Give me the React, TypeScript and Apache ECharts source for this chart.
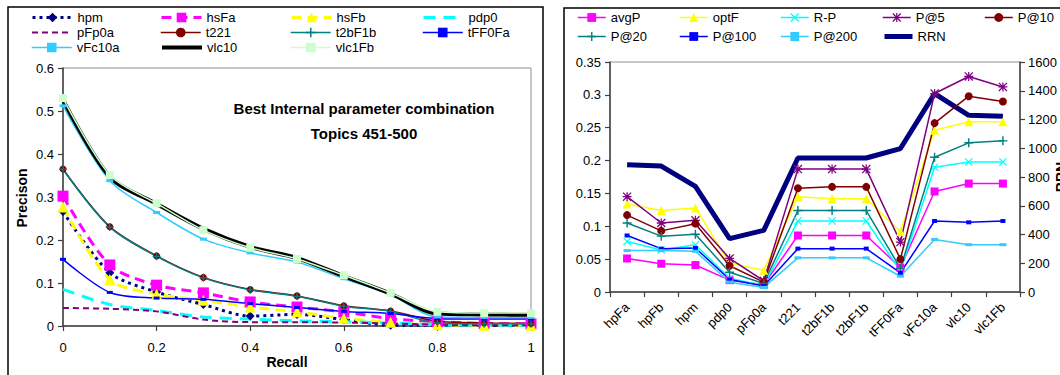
import React, { useEffect, useRef } from "react";
import * as echarts from "echarts";

// ---------- Left panel data (Recall / Precision) ----------
const RECALL = [0, 0.1, 0.2, 0.3, 0.4, 0.5, 0.6, 0.7, 0.8, 0.9, 1];
const LEFT_NAMES = ["hpm", "hsFa", "hsFb", "pdp0", "pFp0a", "t221", "t2bF1b", "tFF0Fa", "vFc10a", "vlc10", "vlc1Fb"];
const hpm = [0.266, 0.124, 0.079, 0.050, 0.023, 0.027, 0.015, 0.002, 0.002, 0.001, 0.001];
const hsFa = [0.302, 0.142, 0.095, 0.077, 0.056, 0.044, 0.033, 0.017, 0.010, 0.006, 0.005];
const hsFb = [0.277, 0.108, 0.074, 0.060, 0.044, 0.033, 0.018, 0.009, 0.003, 0.002, 0.002];
const pdp0 = [0.085, 0.050, 0.036, 0.021, 0.016, 0.012, 0.010, 0.007, 0.003, 0.002, 0.002];
const pFp0a = [0.042, 0.040, 0.034, 0.015, 0.009, 0.009, 0.008, 0.006, 0.003, 0.002, 0.002];
const t221 = [0.365, 0.231, 0.163, 0.113, 0.085, 0.070, 0.047, 0.035, 0.011, 0.007, 0.006];
const t2bF1b = [0.364, 0.230, 0.162, 0.112, 0.084, 0.069, 0.046, 0.034, 0.007, 0.005, 0.005];
const tFF0Fa = [0.155, 0.078, 0.065, 0.062, 0.052, 0.043, 0.034, 0.029, 0.017, 0.016, 0.016];
const vFc10a = [0.512, 0.338, 0.264, 0.202, 0.170, 0.149, 0.110, 0.073, 0.021, 0.020, 0.020];
const vlc10 = [0.526, 0.347, 0.284, 0.226, 0.184, 0.158, 0.116, 0.075, 0.029, 0.027, 0.026];
const vlc1Fb = [0.530, 0.351, 0.285, 0.223, 0.182, 0.156, 0.118, 0.077, 0.033, 0.030, 0.030];
const LEFT_TITLE = ["Best Internal parameter combination", "Topics 451-500"];

// ---------- Right panel data ----------
const RUNS = ["hpFa", "hpFb", "hpm", "pdp0", "pFp0a", "t221", "t2bF1b", "t2bF1b", "tFF0Fa", "vFc10a", "vlc10", "vlc1Fb"];
const RIGHT_NAMES = ["avgP", "optF", "R-P", "P@5", "P@10", "P@20", "P@100", "P@200", "RRN"];
const avgP = [0.051, 0.043, 0.041, 0.018, 0.011, 0.086, 0.086, 0.086, 0.037, 0.153, 0.165, 0.165];
const optF = [0.134, 0.124, 0.128, 0.044, 0.033, 0.145, 0.142, 0.142, 0.092, 0.246, 0.259, 0.259];
const RP = [0.077, 0.064, 0.072, 0.021, 0.010, 0.108, 0.108, 0.108, 0.032, 0.190, 0.198, 0.198];
const P5 = [0.145, 0.105, 0.109, 0.051, 0.017, 0.187, 0.187, 0.187, 0.076, 0.302, 0.328, 0.312];
const P10 = [0.117, 0.093, 0.104, 0.040, 0.015, 0.158, 0.160, 0.160, 0.050, 0.257, 0.298, 0.290];
const P20 = [0.105, 0.085, 0.088, 0.030, 0.013, 0.124, 0.124, 0.124, 0.036, 0.205, 0.227, 0.230];
const P100 = [0.086, 0.066, 0.067, 0.019, 0.009, 0.066, 0.066, 0.066, 0.029, 0.108, 0.106, 0.108];
const P200 = [0.063, 0.063, 0.062, 0.015, 0.007, 0.052, 0.052, 0.052, 0.024, 0.080, 0.072, 0.072];
const RRN = [886, 876, 735, 371, 429, 932, 932, 932, 998, 1380, 1229, 1222];

const FONT = "'Liberation Sans', Arial, sans-serif";
const PLUS = "path://M4.2,0H5.8V10H4.2Z M0,4.2H10V5.8H0Z";
const CROSS = "path://M1,0L10,9L9,10L0,1Z M9,0L10,1L1,10L0,9Z";
const STAR = "path://M4.3,0H5.7V10H4.3Z M0,4.3H10V5.7H0Z M1,0L10,9L9,10L0,1Z M9,0L10,1L1,10L0,9Z";

export default function App() {
  const ref = useRef<HTMLDivElement>(null);
  useEffect(() => {
    if (!ref.current) return;
    const chart = echarts.init(ref.current, undefined, { renderer: "svg" });
    const pts = (arr: number[]) => arr.map((v, i) => [RECALL[i], v]);

    const leftStyles: Record<string, any> = {
      hpm: { color: "#000080", width: 3, type: [3, 4], symbol: "diamond", size: 9 },
      hsFa: { color: "#FF00FF", width: 3, type: [10, 6], symbol: "rect", size: 11 },
      hsFb: { color: "#FFFF00", width: 3, type: [10, 6], symbol: "triangle", size: 11 },
      pdp0: { color: "#00FFFF", width: 3, type: [12, 8], symbol: "none", size: 0 },
      pFp0a: { color: "#800080", width: 2, type: [6, 4], symbol: "none", size: 0 },
      t221: { color: "#800000", width: 1.5, type: "solid", symbol: "circle", size: 7 },
      t2bF1b: { color: "#008080", width: 1.5, type: "solid", symbol: PLUS, size: 8 },
      tFF0Fa: { color: "#0000FF", width: 1.5, type: "solid", symbol: "rect", size: [6, 3] },
      vFc10a: { color: "#33CCFF", width: 1.5, type: "solid", symbol: "rect", size: [7, 3] },
      vlc10: { color: "#000000", width: 4, type: "solid", symbol: "none", size: 0 },
      vlc1Fb: { color: "#CCFFCC", width: 1.5, type: "solid", symbol: "rect", size: 8 },
    };
    const leftData: Record<string, number[]> = { hpm, hsFa, hsFb, pdp0, pFp0a, t221, t2bF1b, tFF0Fa, vFc10a, vlc10, vlc1Fb };

    const rightStyles: Record<string, any> = {
      avgP: { color: "#FF00FF", width: 1.5, type: "solid", symbol: "rect", size: 8 },
      optF: { color: "#FFFF00", width: 1.5, type: "solid", symbol: "triangle", size: 9 },
      "R-P": { color: "#00FFFF", width: 1.5, type: "solid", symbol: CROSS, size: 8 },
      "P@5": { color: "#800080", width: 1.5, type: "solid", symbol: STAR, size: 9 },
      "P@10": { color: "#800000", width: 1.5, type: "solid", symbol: "circle", size: 8 },
      "P@20": { color: "#008080", width: 1.5, type: "solid", symbol: PLUS, size: 9 },
      "P@100": { color: "#0000FF", width: 1.5, type: "solid", symbol: "rect", size: [5, 4] },
      "P@200": { color: "#33CCFF", width: 1.5, type: "solid", symbol: "rect", size: [7, 3] },
      RRN: { color: "#000080", width: 5, type: "solid", symbol: "none", size: 0 },
    };
    const rightData: Record<string, number[]> = {
      avgP, optF, "R-P": RP, "P@5": P5, "P@10": P10, "P@20": P20, "P@100": P100, "P@200": P200, RRN,
    };

    const series: any[] = [];
    LEFT_NAMES.forEach((n) => {
      const s = leftStyles[n];
      series.push({
        name: n,
        type: "line",
        xAxisIndex: 0,
        yAxisIndex: 0,
        data: pts(leftData[n]),
        smooth: 0.3,
        symbol: s.symbol,
        symbolSize: s.size,
        showSymbol: s.symbol !== "none",
        lineStyle: { color: s.color, width: s.width, type: s.type },
        itemStyle: { color: s.color, borderWidth: 0 },
      });
    });
    RIGHT_NAMES.forEach((n) => {
      const s = rightStyles[n];
      const isRRN = n === "RRN";
      series.push({
        name: n,
        type: "line",
        xAxisIndex: 1,
        yAxisIndex: isRRN ? 2 : 1,
        data: rightData[n],
        symbol: s.symbol,
        symbolSize: s.size,
        showSymbol: !isRRN,
        z: isRRN ? 1 : 2,
        lineStyle: { color: s.color, width: s.width },
        itemStyle: { color: s.color, borderWidth: 0 },
      });
    });

    const makeLegend = (n: string, styles: Record<string, any>, left: number, top: number, w: number, h: number) => {
      const s = styles[n];
      const lg: any = {
        data: [n],
        left,
        top,
        itemWidth: w,
        itemHeight: h,
        padding: 0,
        selectedMode: false,
        textStyle: { fontSize: 13, color: "#000", fontFamily: FONT },
        lineStyle: { width: s.width, type: s.type, color: s.color },
      };
      if (s.symbol === "none") lg.itemStyle = { opacity: 0 };
      return lg;
    };
    const legends: any[] = [];
    const lCols = [31, 160, 290, 422];
    const lRows = [11, 26, 41];
    LEFT_NAMES.forEach((n, i) => {
      legends.push(makeLegend(n, leftStyles, lCols[i % 4], lRows[Math.floor(i / 4)], 40, 12));
    });
    const rCols = [577, 679, 780, 882, 984];
    const rRows = [11, 30];
    RIGHT_NAMES.forEach((n, i) => {
      legends.push(makeLegend(n, rightStyles, rCols[i % 5], rRows[Math.floor(i / 5)], 28, 11));
    });

    const axisLine = { show: true, lineStyle: { color: "#404040", width: 1.5 } };
    const axisTick = { show: true, length: 5, lineStyle: { color: "#404040", width: 1.2 } };
    const axisLabel = { fontSize: 13, color: "#000", fontFamily: FONT };
    const fmt = (v: number) => String(+Number(v).toFixed(2));

    const option: any = {
      animation: false,
      textStyle: { fontFamily: FONT },
      legend: legends,
      grid: [
        { left: 63, top: 68, width: 468, height: 258, show: true, borderColor: "#909090", borderWidth: 1, backgroundColor: "transparent" },
        { left: 610, top: 62, width: 410, height: 230, show: true, borderColor: "#909090", borderWidth: 1, backgroundColor: "transparent" },
      ],
      xAxis: [
        {
          type: "value",
          gridIndex: 0,
          min: 0,
          max: 1,
          interval: 0.2,
          axisLine,
          axisTick,
          axisLabel: { ...axisLabel, margin: 15, formatter: fmt },
          splitLine: { show: false },
        },
        {
          type: "category",
          gridIndex: 1,
          data: RUNS,
          boundaryGap: true,
          axisLine,
          axisTick: { ...axisTick, alignWithLabel: false },
          axisLabel: { ...axisLabel, rotate: 45, margin: 13, interval: 0 },
          splitLine: { show: false },
        },
      ],
      yAxis: [
        {
          type: "value",
          gridIndex: 0,
          min: 0,
          max: 0.6,
          interval: 0.1,
          axisLine,
          axisTick,
          axisLabel: { ...axisLabel, margin: 9, formatter: fmt },
          splitLine: { show: false },
        },
        {
          type: "value",
          gridIndex: 1,
          position: "left",
          min: 0,
          max: 0.35,
          interval: 0.05,
          axisLine,
          axisTick,
          axisLabel: { ...axisLabel, margin: 9, formatter: fmt },
          splitLine: { show: false },
        },
        {
          type: "value",
          gridIndex: 1,
          position: "right",
          min: 0,
          max: 1600,
          interval: 200,
          axisLine,
          axisTick,
          axisLabel: { ...axisLabel, margin: 8, formatter: (v: number) => String(v) },
          splitLine: { show: false },
        },
      ],
      graphic: [
        { type: "rect", shape: { x: 8, y: 7, width: 535, height: 380 }, style: { fill: "none", stroke: "#000", lineWidth: 1.5 }, z: -1, silent: true },
        { type: "rect", shape: { x: 564, y: 8, width: 510, height: 380 }, style: { fill: "none", stroke: "#000", lineWidth: 1.5 }, z: -1, silent: true },
        { type: "text", x: 364, y: 108, style: { text: LEFT_TITLE[0], font: `bold 15px ${FONT}`, fill: "#000", textAlign: "center", textVerticalAlign: "middle" } },
        { type: "text", x: 364, y: 133, style: { text: LEFT_TITLE[1], font: `bold 15px ${FONT}`, fill: "#000", textAlign: "center", textVerticalAlign: "middle" } },
        { type: "text", x: 22, y: 198, rotation: Math.PI / 2, style: { text: "Precison", font: `bold 14px ${FONT}`, fill: "#000", textAlign: "center", textVerticalAlign: "middle" } },
        { type: "text", x: 287, y: 362, style: { text: "Recall", font: `bold 14px ${FONT}`, fill: "#000", textAlign: "center", textVerticalAlign: "middle" } },
        { type: "text", x: 1061, y: 177, rotation: Math.PI / 2, style: { text: "RRN", font: `bold 14px ${FONT}`, fill: "#000", textAlign: "center", textVerticalAlign: "middle" } },
      ],
      series,
    };
    chart.setOption(option);
    return () => chart.dispose();
  }, []);
  return <div ref={ref} style={{ position: "absolute", left: 0, top: 0, width: 1060, height: 375, background: "#fff" }} />;
}
